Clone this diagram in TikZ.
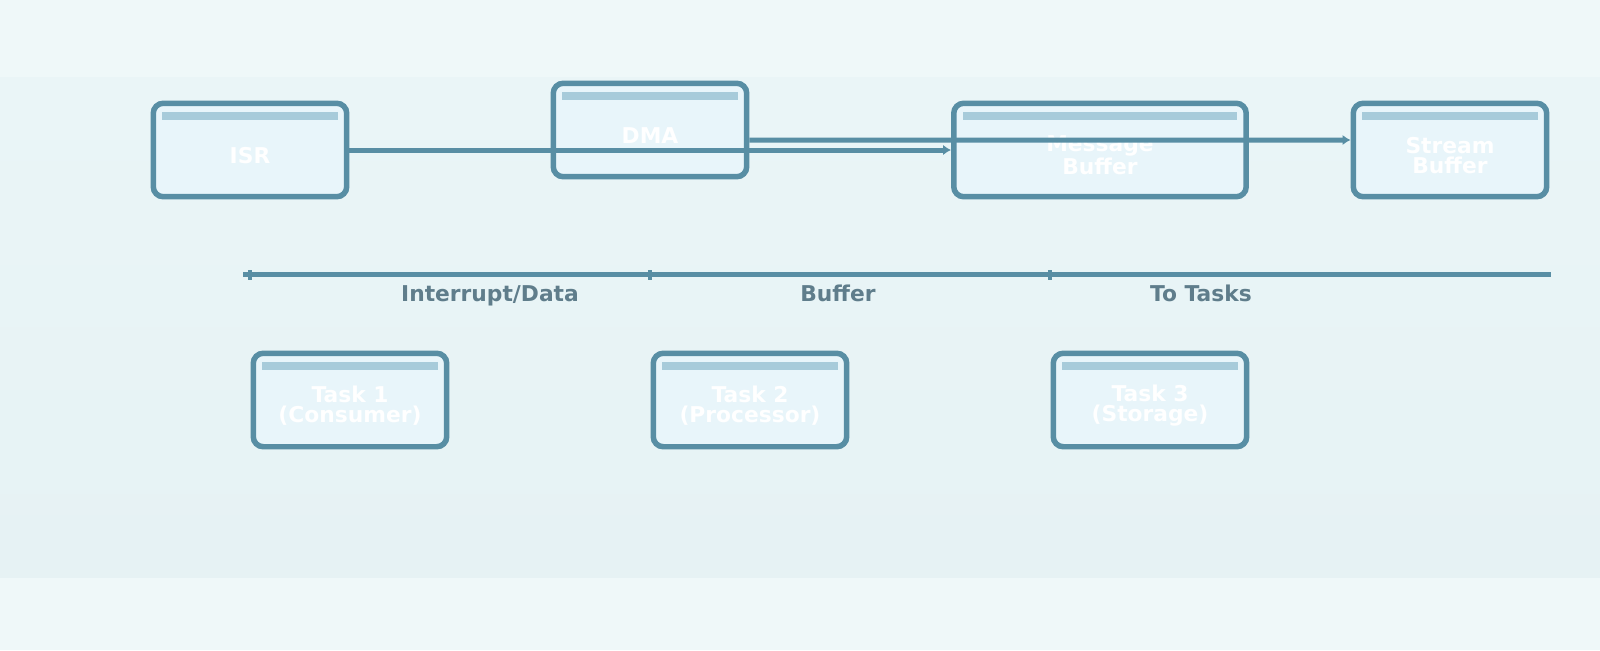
\documentclass[tikz,border=0pt]{standalone}
\usepackage{fontspec}
\setmainfont{DejaVu Sans}
\usepackage{tikz}
\usetikzlibrary{arrows.meta,positioning,calc}
\definecolor{bglight}{HTML}{EFF8F9}
\definecolor{bgmidtop}{HTML}{EAF5F7}
\definecolor{bgmidbot}{HTML}{E6F2F4}
\definecolor{boxfill}{HTML}{E8F5FA}
\definecolor{boxedge}{HTML}{588EA4}
\definecolor{headbar}{HTML}{A7CBDA}
\definecolor{labelgray}{HTML}{5F7D8B}
\tikzset{
  procbox/.style={
    rounded corners=0.2cm,
    draw=boxedge,
    fill=boxfill,
    line width=0.11cm,
    minimum width=3.87cm,
    minimum height=1.87cm,
    path picture={
      \fill[headbar,sharp corners] ([xshift=0.175cm,yshift=-0.175cm]path picture bounding box.north west)
        rectangle ([xshift=-0.175cm,yshift=-0.335cm]path picture bounding box.north east);
    }
  },
  widebox/.style={procbox,minimum width=5.85cm},
  boxtext/.style={
    text=white,
    align=center,
    yshift=-0.11cm,
    font=\fontsize{12.4pt}{11.3pt}\selectfont\bfseries
  },
  flowline/.style={-{Latex[length=1.6mm,width=2.1mm]},line width=0.1cm,draw=boxedge},
  axisline/.style={line width=0.09cm,draw=boxedge},
  tickmark/.style={rectangle,fill=boxedge,inner sep=0pt,minimum width=0.07cm,minimum height=0.2cm},
  phaselabel/.style={anchor=base,text=labelgray,font=\fontsize{12.4pt}{14pt}\selectfont\bfseries}
}

\begin{document}
\begin{tikzpicture}[x=0.02cm,y=-0.02cm]
  \useasboundingbox (0,0) rectangle (1600,650);
  \fill[bglight] (0,0) rectangle (1600,650);
  \shade[top color=bgmidtop,bottom color=bgmidbot] (0,77) rectangle (1600,577);

  % top row
  \node[procbox, label={[boxtext]center:ISR}]                    (isr)    at ( 250,150) {};
  \node[procbox, label={[boxtext]center:DMA}]                    (dma)    at ( 650,130) {};
  \node[widebox, label={[boxtext]center:Message\\Buffer}]        (msgbuf) at (1100,150) {};
  \node[procbox, label={[boxtext]center:Stream\\Buffer}]         (strbuf) at (1450,150) {};

  % timeline
  \coordinate (axstart) at ( 243,274.5);
  \coordinate (axend)   at (1551,274.5);
  \draw[axisline] (axstart) -- (axend);
  \node[tickmark] (tk1) at ( 250,274.5) {};
  \node[tickmark] (tk2) at ( 650,274.5) {};
  \node[tickmark] (tk3) at (1050,274.5) {};
  \node[phaselabel] (ph1) at ( 490,301) {Interrupt/Data};
  \node[phaselabel] (ph2) at ( 838,301) {Buffer};
  \node[phaselabel] (ph3) at (1201,301) {To Tasks};

  % tasks
  \node[procbox, label={[boxtext]center:Task 1\\(Consumer)}]  (task1) at ( 350,400) {};
  \node[procbox, label={[boxtext]center:Task 2\\(Processor)}] (task2) at ( 750,400) {};
  \node[procbox, label={[boxtext]center:Task 3\\(Storage)}]   (task3) at (1150,400) {};

  % flows
  \draw[flowline] (isr.east) -- (msgbuf.west);
  \draw[flowline] ([yshift=-0.2cm]dma.east) -- ([yshift=0.2cm]strbuf.west);
\end{tikzpicture}
\end{document}
